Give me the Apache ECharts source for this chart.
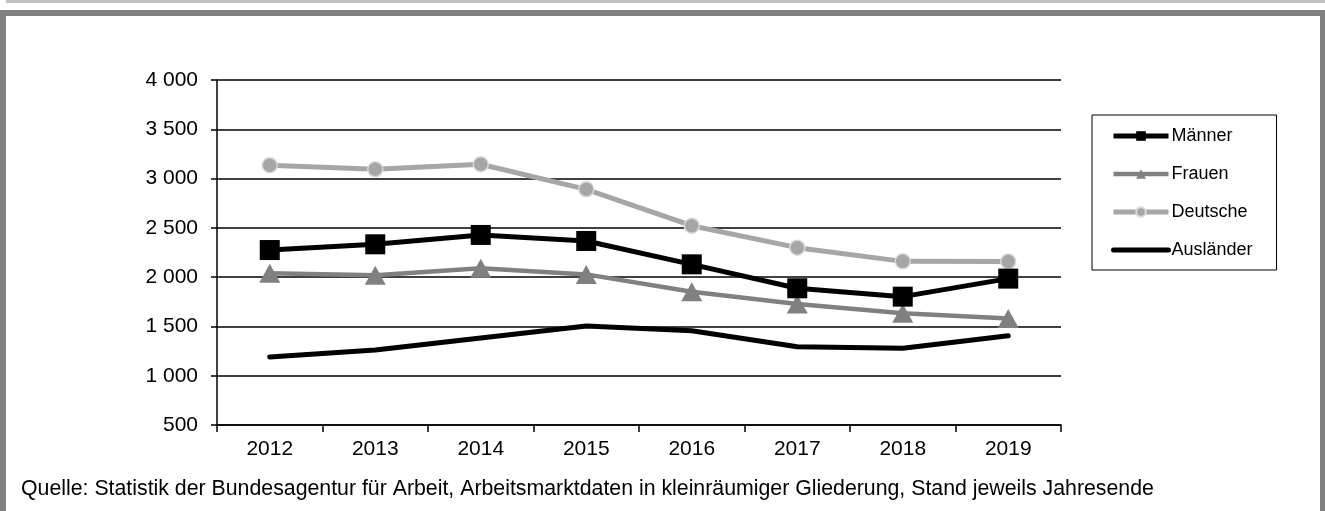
<!DOCTYPE html>
<html>
<head>
<meta charset="utf-8">
<script src="https://cdn.jsdelivr.net/npm/echarts@6/dist/echarts.min.js"></script>
<style>
  html, body { margin: 0; padding: 0; background: #fff; }
  #chart { width: 1325px; height: 511px; }
</style>
</head>
<body>
<div id="chart"></div>
<script>
  var years = ['2012', '2013', '2014', '2015', '2016', '2017', '2018', '2019']
  var maenner = [2275, 2333, 2428, 2367, 2130, 1887, 1802, 1985]
  var frauen = [2040, 2020, 2090, 2028, 1852, 1728, 1633, 1580]
  var deutsche = [3135, 3094, 3145, 2891, 2522, 2299, 2160, 2158]
  var auslaender = [1190, 1261, 1383, 1504, 1457, 1294, 1278, 1405]
  var quelle = 'Quelle: Statistik der Bundesagentur für Arbeit, Arbeitsmarktdaten in kleinräumiger Gliederung, Stand jeweils Jahresende'

  var font = '"Liberation Sans", Arial, sans-serif'

  function fmt(v) {
    return String(v).replace(/\B(?=(\d{3})+(?!\d))/g, ' ')
  }

  var chart = echarts.init(document.getElementById('chart'), null, { renderer: 'canvas' })
  chart.setOption({
    animation: false,
    backgroundColor: '#fff',
    textStyle: { fontFamily: font },
    graphic: [
      // light strip on top
      { type: 'rect', shape: { x: 6, y: 0, width: 1319, height: 3 }, style: { fill: '#c0c0c0' } },
      // dark frame
      { type: 'rect', shape: { x: 0, y: 10, width: 1325, height: 6 }, style: { fill: '#808080' } },
      { type: 'rect', shape: { x: 0, y: 10, width: 6, height: 501 }, style: { fill: '#808080' } },
      { type: 'rect', shape: { x: 1320, y: 10, width: 5, height: 501 }, style: { fill: '#808080' } },
      {
        type: 'text', left: 21, top: 479,
        style: { text: quelle, fill: '#000', font: '21.3px ' + font }
      }
    ],
    grid: {
      left: 217,
      right: 264,
      top: 80,
      bottom: 86
    },
    legend: {
      orient: 'vertical',
      left: 1092,
      top: 115,
      padding: [11, 24, 10, 19],
      borderColor: '#000',
      borderWidth: 1,
      itemWidth: 55,
      itemHeight: 12,
      itemGap: 18,
      textStyle: { fontSize: 18, color: '#000', lineHeight: 20, padding: [0, 0, 0, -2] },
      data: [
        { name: 'Männer', lineStyle: { color: '#000', width: 5 } },
        { name: 'Frauen', lineStyle: { color: '#808080', width: 4.5 } },
        { name: 'Deutsche', lineStyle: { color: '#a6a6a6', width: 5 } },
        {
          name: 'Ausländer',
          lineStyle: { color: '#000', width: 5 },
          itemStyle: { color: 'transparent', borderColor: 'transparent', borderWidth: 0 }
        }
      ]
    },
    xAxis: {
      type: 'category',
      data: years,
      boundaryGap: true,
      axisLine: { lineStyle: { color: '#000', width: 1.5 } },
      axisTick: { show: true, length: 7, lineStyle: { color: '#000', width: 1.5 } },
      axisLabel: { color: '#000', fontSize: 21, margin: 14 },
      splitLine: { show: false }
    },
    yAxis: {
      type: 'value',
      min: 500,
      max: 4000,
      interval: 500,
      axisLine: { show: true, lineStyle: { color: '#000', width: 1.5 } },
      axisTick: { show: true, length: 6, lineStyle: { color: '#000', width: 1.5 } },
      axisLabel: { color: '#000', fontSize: 21, margin: 19, formatter: fmt },
      splitLine: { show: true, lineStyle: { color: '#000', width: 1.5 } }
    },
    series: [
      {
        name: 'Männer',
        type: 'line',
        data: maenner,
        symbol: 'rect',
        symbolSize: 20,
        z: 4,
        lineStyle: { color: '#000', width: 5 },
        itemStyle: { color: '#000', borderColor: '#000', borderWidth: 0 }
      },
      {
        name: 'Frauen',
        type: 'line',
        data: frauen,
        symbol: 'triangle',
        symbolSize: [21, 19],
        z: 3,
        lineStyle: { color: '#808080', width: 4.5 },
        itemStyle: { color: '#808080', borderWidth: 0 }
      },
      {
        name: 'Deutsche',
        type: 'line',
        data: deutsche,
        symbol: 'circle',
        symbolSize: 15,
        z: 3,
        lineStyle: { color: '#a6a6a6', width: 5 },
        itemStyle: { color: '#a6a6a6', borderColor: '#d9d9d9', borderWidth: 1.5 }
      },
      {
        name: 'Ausländer',
        type: 'line',
        data: auslaender,
        symbol: 'none',
        showSymbol: false,
        z: 3,
        lineStyle: { color: '#000', width: 5, cap: 'round' },
        itemStyle: { color: '#000' }
      }
    ]
  })
</script>
</body>
</html>
